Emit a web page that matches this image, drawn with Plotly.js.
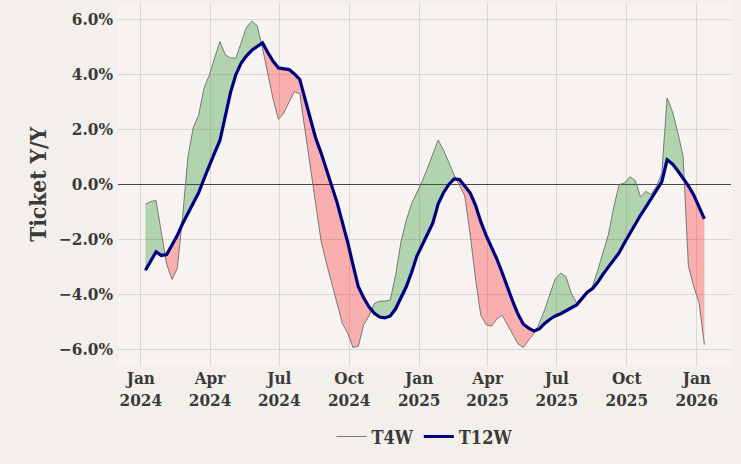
<!DOCTYPE html>
<html>
<head>
<meta charset="utf-8">
<script src="https://cdn.plot.ly/plotly-3.0.1.min.js"></script>
<style>
html,body{margin:0;padding:0;background:#f3efeb;}
#chart{width:741px;height:464px;}
</style>
</head>
<body>
<div id="chart"></div>
<script>
// Weekly series, first week ending 2024-01-07
const startDate = "2024-01-07";
const t4w = [
 -0.72,-0.62,-0.58,-1.80,-2.90,-3.45,-3.05,-1.15,1.00,2.08,
 2.52,3.50,3.97,4.60,5.20,4.72,4.60,4.60,5.18,5.72,
 5.94,5.78,4.95,4.00,3.10,2.37,2.60,3.00,3.38,3.30,
 2.00,0.60,-0.70,-2.05,-2.85,-3.60,-4.35,-5.05,-5.40,-5.93,
 -5.88,-5.10,-4.78,-4.33,-4.24,-4.24,-4.20,-3.30,-2.10,-1.30,
 -0.70,-0.30,0.12,0.60,1.10,1.62,1.25,0.78,0.35,-0.03,
 -0.42,-1.80,-3.40,-4.75,-5.10,-5.15,-4.90,-4.75,-5.10,-5.50,
 -5.80,-5.93,-5.65,-5.42,-5.05,-4.55,-4.00,-3.42,-3.22,-3.35,
 -3.95,-4.30,-4.12,-3.90,-3.70,-3.10,-2.48,-1.80,-0.80,0.00,
 0.05,0.28,0.15,-0.45,-0.25,-0.36,-0.06,0.40,3.15,2.65,
 1.90,1.03,-2.97,-3.70,-4.30,-5.82
];
const t12w = [
 -3.12,-2.80,-2.45,-2.58,-2.55,-2.20,-1.85,-1.42,-1.05,-0.70,
 -0.30,0.20,0.70,1.15,1.60,2.50,3.35,4.00,4.42,4.68,
 4.88,5.02,5.15,4.80,4.48,4.24,4.22,4.18,4.02,3.82,
 3.10,2.38,1.68,1.15,0.50,-0.05,-0.65,-1.33,-2.10,-2.92,
 -3.72,-4.12,-4.45,-4.68,-4.82,-4.85,-4.78,-4.52,-4.15,-3.72,
 -3.20,-2.60,-2.20,-1.80,-1.40,-0.70,-0.30,0.00,0.20,0.18,
 -0.05,-0.30,-0.75,-1.35,-1.85,-2.25,-2.70,-3.20,-3.75,-4.25,
 -4.72,-5.08,-5.22,-5.33,-5.25,-5.05,-4.90,-4.78,-4.70,-4.60,
 -4.50,-4.38,-4.15,-3.92,-3.78,-3.55,-3.25,-3.00,-2.75,-2.48,
 -2.12,-1.78,-1.43,-1.12,-0.82,-0.52,-0.24,0.10,0.90,0.75,
 0.50,0.24,-0.05,-0.38,-0.82,-1.25
];
const tickVals = ["2024-01-01","2024-04-01","2024-07-01","2024-10-01","2025-01-01","2025-04-01","2025-07-01","2025-10-01","2026-01-01"];
const tickText = ["Jan<br>2024","Apr<br>2024","Jul<br>2024","Oct<br>2024","Jan<br>2025","Apr<br>2025","Jul<br>2025","Oct<br>2025","Jan<br>2026"];
const yTickVals = [-6,-4,-2,0,2,4,6];
const yTickText = ["\u22126.0%","\u22124.0%","\u22122.0%","0.0%","2.0%","4.0%","6.0%"];

const WEEK = 7*24*3600*1000;
const t0 = Date.parse(startDate + "T00:00:00Z");
const xs = t4w.map((_, i) => t0 + i*WEEK);
const iso = ms => new Date(ms).toISOString().slice(0,19).replace("T"," ");
const dates = xs.map(iso);

// Build fill polygons between the two series, split at crossings
const runs = [];
let cur = null;
function sgn(v, prev){ if (v > 0) return 1; if (v < 0) return -1; return prev || 1; }
let prevS = 0;
for (let i = 0; i < xs.length; i++) {
  const d = t4w[i] - t12w[i];
  const s = sgn(d, prevS);
  if (i > 0 && s !== prevS) {
    const dp = t4w[i-1] - t12w[i-1];
    const f = dp / (dp - d);
    const cx = xs[i-1] + f*(xs[i]-xs[i-1]);
    const cy = t4w[i-1] + f*(t4w[i]-t4w[i-1]);
    cur.x.push(cx); cur.a.push(cy); cur.b.push(cy);
    runs.push(cur);
    cur = {s: s, x:[cx], a:[cy], b:[cy]};
  }
  if (!cur) cur = {s: s, x:[], a:[], b:[]};
  cur.x.push(xs[i]); cur.a.push(t4w[i]); cur.b.push(t12w[i]);
  prevS = s;
}
runs.push(cur);

const traces = [];
runs.forEach(r => {
  const px = r.x.concat(r.x.slice().reverse()).map(iso);
  const py = r.a.concat(r.b.slice().reverse());
  traces.push({
    x: px, y: py, type: "scatter", mode: "lines",
    line: {width: 0}, fill: "toself",
    fillcolor: r.s > 0 ? "rgba(0,128,0,0.28)" : "rgba(255,0,0,0.28)",
    showlegend: false, hoverinfo: "skip"
  });
});

traces.push({
  x: dates, y: t4w, type: "scatter", mode: "lines", name: "T4W",
  line: {color: "rgba(110,110,110,0.9)", width: 1}
});
traces.push({
  x: dates, y: t12w, type: "scatter", mode: "lines", name: "T12W",
  line: {color: "#00007f", width: 3.2}
});

const font = "'DejaVu Serif Condensed', 'DejaVu Serif', serif";
const tf = {family: font, size: 17, color: "#3a3a3a", weight: "bold"};
const layout = {
  width: 741, height: 464,
  paper_bgcolor: "#f3efeb",
  plot_bgcolor: "#f6f3f0",
  margin: {l: 118, r: 10, t: 3, b: 98},
  font: tf,
  showlegend: true,
  legend: {
    orientation: "h", x: 0.5, xanchor: "center", y: -0.195, yanchor: "middle",
    font: {family: font, size: 18, color: "#3a3a3a", weight: "bold"}, bgcolor: "rgba(0,0,0,0)",
    traceorder: "normal"
  },
  xaxis: {
    type: "date",
    range: ["2023-12-02", "2026-02-15"],
    tickvals: tickVals, ticktext: tickText,
    showgrid: true, gridcolor: "#dbd7d3", gridwidth: 1,
    zeroline: false, showline: false, ticks: "",
    tickfont: tf,
    fixedrange: true
  },
  yaxis: {
    range: [-6.6, 6.6],
    tickvals: yTickVals, ticktext: yTickText,
    showgrid: true, gridcolor: "#dbd7d3", gridwidth: 1,
    zeroline: true, zerolinecolor: "#4a4a4a", zerolinewidth: 1.2,
    showline: false, ticks: "",
    ticklabelstandoff: 4,
    tickfont: tf,
    title: {text: "Ticket Y/Y", font: {family: font, size: 22.5, color: "#3a3a3a", weight: "bold"}, standoff: 6},
    fixedrange: true
  },
  hovermode: false
};
Plotly.newPlot("chart", traces, layout, {staticPlot: true, displayModeBar: false});
</script>
</body>
</html>
